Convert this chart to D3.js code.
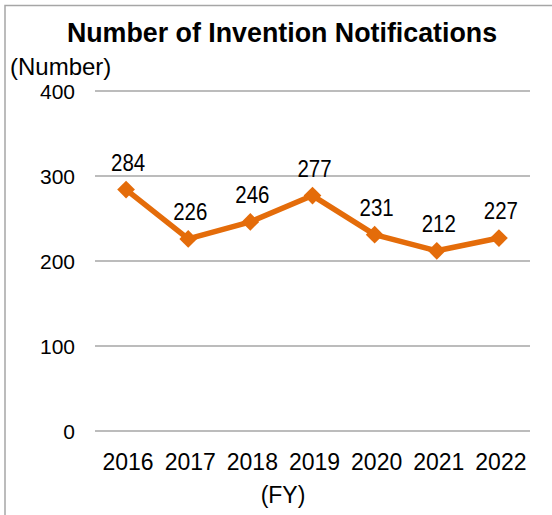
<!DOCTYPE html>
<html>
<head>
<meta charset="utf-8">
<script src="https://cdn.jsdelivr.net/npm/d3@7"></script>
<style>
body { margin: 0; background: #fff; }
</style>
</head>
<body>
<script>
const years = ["2016", "2017", "2018", "2019", "2020", "2021", "2022"];
const counts = [284, 226, 246, 277, 231, 212, 227];
const yTicks = [0, 100, 200, 300, 400];

const font = "Liberation Sans, Arial, sans-serif";

const svg = d3.select("body").append("svg")
    .attr("width", 552)
    .attr("height", 515);

// frame
svg.append("path")
    .attr("d", "M5,515 V5.5 H552")
    .attr("fill", "none")
    .attr("stroke", "#a6a6a6")
    .attr("stroke-width", 1.5);

const x = d3.scaleBand().domain(years).range([95, 530]);
const y = d3.scaleLinear().domain([0, 400]).range([431, 91]);

svg.selectAll(".grid")
    .data(yTicks)
    .enter()
    .append("line")
    .attr("class", "grid")
    .attr("x1", 95)
    .attr("x2", 530)
    .attr("y1", d => y(d))
    .attr("y2", d => y(d))
    .attr("stroke", "#a6a6a6")
    .attr("stroke-width", 1.5);

svg.selectAll(".ytick")
    .data(yTicks)
    .enter()
    .append("text")
    .attr("class", "ytick")
    .attr("x", 75)
    .attr("y", d => y(d) + 8)
    .attr("text-anchor", "end")
    .attr("font-family", font)
    .attr("font-size", 21)
    .text(d => d);

svg.selectAll(".xtick")
    .data(years)
    .enter()
    .append("text")
    .attr("class", "xtick")
    .attr("x", d => x(d) + x.bandwidth() / 2 + 2)
    .attr("y", 470)
    .attr("text-anchor", "middle")
    .attr("font-family", font)
    .attr("font-size", 23)
    .text(d => d);

const pts = years.map((yr, i) => ({ yr: yr, v: counts[i] }));

const line = d3.line()
    .x(d => x(d.yr) + x.bandwidth() / 2)
    .y(d => y(d.v));

svg.append("path")
    .datum(pts)
    .attr("d", line)
    .attr("fill", "none")
    .attr("stroke", "#e46c0a")
    .attr("stroke-width", 5.5)
    .attr("stroke-linejoin", "round");

svg.selectAll(".mark")
    .data(pts)
    .enter()
    .append("path")
    .attr("class", "mark")
    .attr("d", d3.symbol().type(d3.symbolDiamond2).size(200))
    .attr("transform", d => "translate(" + (x(d.yr) + x.bandwidth() / 2) + "," + y(d.v) + ")")
    .attr("fill", "#e46c0a");

// value labels: narrow, tall digits like the original
svg.selectAll(".lbl")
    .data(pts)
    .enter()
    .append("text")
    .attr("class", "lbl")
    .attr("transform", d => "translate(" + (x(d.yr) + x.bandwidth() / 2 + 2) + "," + (y(d.v) - 19) + ") scale(0.93,1.08)")
    .attr("text-anchor", "middle")
    .attr("font-family", font)
    .attr("font-size", 22)
    .text(d => d.v);

svg.append("text")
    .attr("x", 282)
    .attr("y", 42)
    .attr("text-anchor", "middle")
    .attr("font-family", font)
    .attr("font-weight", "bold")
    .attr("font-size", 26.8)
    .text("Number of Invention Notifications");

svg.append("text")
    .attr("x", 10)
    .attr("y", 75)
    .attr("font-family", font)
    .attr("font-size", 24)
    .text("(Number)");

svg.append("text")
    .attr("x", 283)
    .attr("y", 503)
    .attr("text-anchor", "middle")
    .attr("font-family", font)
    .attr("font-size", 23)
    .text("(FY)");
</script>
</body>
</html>
